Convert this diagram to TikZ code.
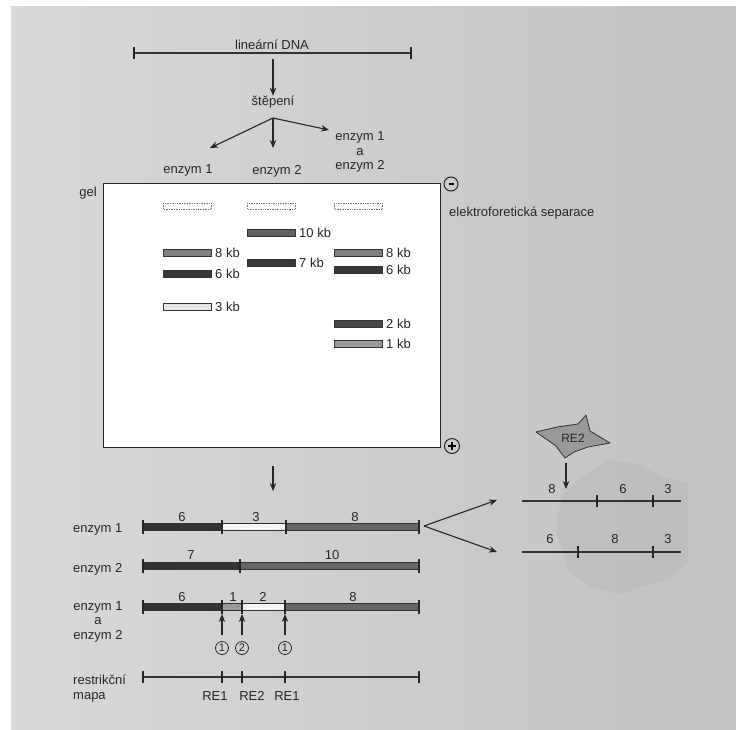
\documentclass[tikz,border=0pt]{standalone}
\usepackage{fontspec}
\setmainfont{Liberation Sans}
\usetikzlibrary{arrows.meta}
\begin{document}
\begin{tikzpicture}[x=1pt,y=-1pt,
  lbl/.style={font=\fontsize{13}{15}\selectfont, inner sep=0pt, text=black!85},
  arr/.style={-{Stealth[length=8pt,width=6.5pt]}, line width=1.1pt, draw=black!85},
  well/.style={draw=black!55, densely dotted, line width=0.7pt},
  bnd/.style={draw=black!80, line width=0.8pt},
  tick/.style={draw=black!85, line width=1.1pt},
  mapline/.style={draw=black!80, line width=1.1pt},
  circnum/.style={circle, draw=black!85, line width=0.8pt, minimum size=13pt, inner sep=0pt, font=\fontsize{11}{12}\selectfont, text=black!85}
]
\useasboundingbox (0,0) rectangle (736,729);
\fill[white] (0,0) rectangle (736,729);
\shade[left color=black!15, right color=black!24] (11,6) rectangle (736,729);
% shaded blob
\fill[black!30, opacity=0.35] (580,478) -- (610,460) -- (640,465) -- (660,476) -- (688,484) -- (688,562) -- (670,578) -- (620,594) -- (592,588) -- (568,570) -- (556,530) -- (562,495) -- cycle;

% top
\draw[mapline] (134,53) -- (411,53);
\draw[tick] (134,47) -- (134,59) (411,47) -- (411,59);
\node[lbl, anchor=base] (dna) at (272,49) {lineární DNA};
\coordinate (a1s) at (273,59);
\node[lbl] (step) at (273,102) {štěpení};
\draw[arr] (a1s) -- (step.north);
\coordinate (fork) at (273,118);
\coordinate (fl) at (210,148);
\coordinate (fm) at (273,148);
\coordinate (fr) at (329,130);
\draw[arr] (fork) -- (fl);
\draw[arr] (fork) -- (fm);
\draw[arr] (fork) -- (fr);
\node[lbl] (e1) at (188,170) {enzym 1};
\node[lbl] (e2) at (277,171) {enzym 2};
\node[lbl, align=center, font=\fontsize{13}{14.5}\selectfont] (e12) at (360,152) {enzym 1\\a\\enzym 2};

% gel
\node[draw=black!85, line width=1.4pt, fill=white, minimum width=337pt, minimum height=264pt, anchor=north west, inner sep=0pt] (gel) at (103,183) {};
\node[lbl, anchor=east] (gellbl) at (97,193) {gel};
\node[circle, draw=black!85, line width=1pt, minimum size=14pt, inner sep=0pt] (minus) at (451,184) {};
\draw[line width=1.3pt] ([xshift=-2.5pt]minus.center) -- ([xshift=2.5pt]minus.center);
\node[circle, draw=black!85, line width=1pt, minimum size=15pt, inner sep=0pt] (plus) at (452,446) {};
\draw[line width=1.3pt] ([xshift=-4pt]plus.center) -- ([xshift=4pt]plus.center) ([yshift=-4pt]plus.center) -- ([yshift=4pt]plus.center);
\node[lbl, anchor=west] (sep) at (449,213) {elektroforetická separace};

% wells
\draw[well] (163,203) rectangle (211,209);
\draw[well] (247,203) rectangle (295,209);
\draw[well] (334,203) rectangle (382,209);

% lane 1
\draw[bnd, fill=black!50] (163,249.5) rectangle (211,256.5);
\node[lbl, anchor=west] (l1a) at (215,253) {8 kb};
\draw[bnd, fill=black!78] (163,270.5) rectangle (211,277.5);
\node[lbl, anchor=west] (l1b) at (215,274) {6 kb};
\draw[bnd, fill=black!10] (163,303.5) rectangle (211,310.5);
\node[lbl, anchor=west] (l1c) at (215,307) {3 kb};
% lane 2
\draw[bnd, fill=black!62] (247,229.5) rectangle (295,236.5);
\node[lbl, anchor=west] (l2a) at (299,233) {10 kb};
\draw[bnd, fill=black!78] (247,259.5) rectangle (295,266.5);
\node[lbl, anchor=west] (l2b) at (299,263) {7 kb};
% lane 3
\draw[bnd, fill=black!50] (334,249.5) rectangle (382,256.5);
\node[lbl, anchor=west] (l3a) at (386,253) {8 kb};
\draw[bnd, fill=black!78] (334,266.5) rectangle (382,273.5);
\node[lbl, anchor=west] (l3b) at (386,270) {6 kb};
\draw[bnd, fill=black!72] (334,320.5) rectangle (382,327.5);
\node[lbl, anchor=west] (l3c) at (386,324) {2 kb};
\draw[bnd, fill=black!40] (334,340.5) rectangle (382,347.5);
\node[lbl, anchor=west] (l3d) at (386,344) {1 kb};

% arrow below gel
\coordinate (g1) at (273,466);
\coordinate (g2) at (273,491);
\draw[arr] (g1) -- (g2);

% bar enzym 1
\node[lbl, anchor=west] (b1l) at (73,529) {enzym 1};
\draw[bnd, fill=black!80] (143,523.5) rectangle (222,530.5);
\draw[bnd, fill=black!4] (222,523.5) rectangle (286,530.5);
\draw[bnd, fill=black!60] (286,523.5) rectangle (419,530.5);
\draw[tick] (143,520) -- (143,534) (222,520) -- (222,534) (286,520) -- (286,534) (419,520) -- (419,534);
\node[lbl] at (182,517) {6};
\node[lbl] at (256,517) {3};
\node[lbl] at (355,517) {8};

% bar enzym 2
\node[lbl, anchor=west] (b2l) at (73,569) {enzym 2};
\draw[bnd, fill=black!80] (143,562.5) rectangle (240,569.5);
\draw[bnd, fill=black!60] (240,562.5) rectangle (419,569.5);
\draw[tick] (143,559) -- (143,573) (240,559) -- (240,573) (419,559) -- (419,573);
\node[lbl] at (191,555) {7};
\node[lbl] at (332,555) {10};

% bar enzym 1 a enzym 2
\node[lbl, anchor=north, align=center, font=\fontsize{13}{14.5}\selectfont] (b3l) at (98,601) {enzym 1\\a\\enzym 2};
\draw[bnd, fill=black!80] (143,603.5) rectangle (222,610.5);
\draw[bnd, fill=black!40] (222,603.5) rectangle (242,610.5);
\draw[bnd, fill=black!4] (242,603.5) rectangle (285,610.5);
\draw[bnd, fill=black!60] (285,603.5) rectangle (419,610.5);
\draw[tick] (143,600) -- (143,614) (222,600) -- (222,614) (242,600) -- (242,614) (285,600) -- (285,614) (419,600) -- (419,614);
\node[lbl] at (182,597) {6};
\node[lbl] at (233,597) {1};
\node[lbl] at (263,597) {2};
\node[lbl] at (353,597) {8};

\node[circnum] (c1) at (222,648) {1};
\node[circnum] (c2) at (242,648) {2};
\node[circnum] (c3) at (285,648) {1};
\coordinate (t1) at (222,614);
\coordinate (t2) at (242,614);
\coordinate (t3) at (285,614);
\draw[arr] ([yshift=6pt]c1.north) -- (t1);
\draw[arr] ([yshift=6pt]c2.north) -- (t2);
\draw[arr] ([yshift=6pt]c3.north) -- (t3);

% restriction map
\node[lbl, anchor=north west, align=left, font=\fontsize{13}{14.5}\selectfont] (rml) at (73,675) {restrikční\\mapa};
\draw[mapline] (143,677) -- (419,677);
\draw[tick] (143,671) -- (143,683) (222,671) -- (222,683) (242,671) -- (242,683) (285,671) -- (285,683) (419,671) -- (419,683);
\node[lbl] (re1a) at (215,696) {RE1};
\node[lbl] (re2) at (252,696) {RE2};
\node[lbl] (re1b) at (287,696) {RE1};

% right part
\coordinate (vt) at (424,526);
\coordinate (vu) at (497,500);
\coordinate (vd) at (497,552);
\draw[arr] (vt) -- (vu);
\draw[arr] (vt) -- (vd);

\draw[mapline] (522,501) -- (681,501);
\draw[tick] (597,495) -- (597,507) (653,495) -- (653,507);
\node[lbl] at (552,489) {8};
\node[lbl] at (623,489) {6};
\node[lbl] at (668,489) {3};

\draw[mapline] (522,552) -- (681,552);
\draw[tick] (578,546) -- (578,558) (653,546) -- (653,558);
\node[lbl] at (550,539) {6};
\node[lbl] at (615,539) {8};
\node[lbl] at (668,539) {3};

% RE2 star
\draw[fill=black!40, draw=black!80, line width=0.8pt, line join=round]
  (536,432) -- (557,427) -- (578,424) -- (586,415) -- (590,431) -- (610,443) -- (588,447) -- (574,452) -- (565,458) -- (556,446) -- cycle;
\node[lbl, font=\fontsize{12}{13}\selectfont] (re2s) at (573,438) {RE2};
\coordinate (s1) at (566,463);
\coordinate (s2) at (566,489);
\draw[arr] (s1) -- (s2);
\end{tikzpicture}
\end{document}
